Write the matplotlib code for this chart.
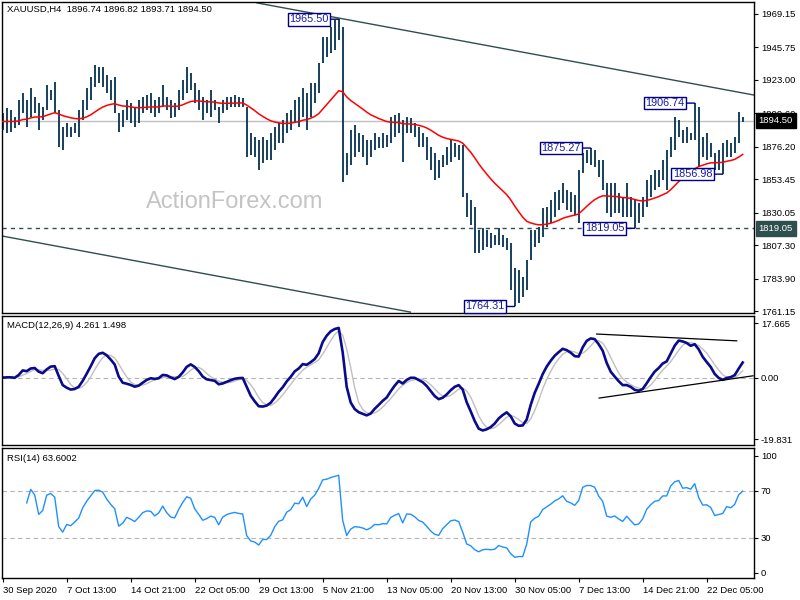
import numpy as np
import pandas as pd
import matplotlib
matplotlib.use('Agg')
import matplotlib.pyplot as plt
from matplotlib.transforms import blended_transform_factory

plt.rcParams['font.family'] = ['Liberation Sans', 'DejaVu Sans']

HEADER = 'XAUUSD,H4  1896.74 1896.82 1893.71 1894.50'
MACD_HEADER = 'MACD(12,26,9) 4.261 1.498'
RSI_HEADER = 'RSI(14) 63.6002'
LAST_CLOSE = 1894.50
LEVEL = 1819.05

# one bar per 8h (two H4 bars merged)
HIGH = [
    1899.8, 1903.3, 1901.9, 1897.0, 1908.9, 1913.8, 1908.9, 1917.3, 1911.0, 1906.8,
    1904.0, 1919.4, 1915.9, 1921.5, 1901.9, 1890.0, 1892.8, 1890.0, 1892.8, 1901.9,
    1908.9, 1917.3, 1925.0, 1933.4, 1932.0, 1932.0, 1926.4, 1922.9, 1925.0, 1899.8,
    1901.9, 1908.9, 1906.8, 1904.0, 1908.9, 1911.0, 1912.4, 1913.8, 1908.9, 1911.0,
    1919.4, 1911.0, 1908.9, 1906.8, 1915.9, 1922.9, 1932.0, 1927.8, 1920.8, 1915.9,
    1911.0, 1908.9, 1915.9, 1908.9, 1904.0, 1908.9, 1911.0, 1911.0, 1912.4, 1911.0,
    1910.3, 1904.0, 1885.8, 1883.0, 1880.9, 1883.0, 1880.9, 1885.8, 1890.0, 1892.8,
    1894.9, 1899.8, 1901.9, 1908.9, 1911.0, 1917.3, 1913.8, 1920.8, 1920.8, 1934.8,
    1953.0, 1953.0, 1960.0, 1964.9, 1965.50, 1960.0, 1871.8, 1887.9, 1891.4, 1885.8,
    1884.4, 1880.9, 1880.9, 1885.8, 1883.0, 1885.8, 1884.4, 1897.0, 1898.4, 1899.8,
    1894.9, 1897.0, 1896.3, 1892.8, 1890.0, 1885.8, 1883.0, 1876.0, 1871.8, 1866.9,
    1870.4, 1876.0, 1880.9, 1878.8, 1877.4, 1877.4, 1843.8, 1838.9, 1834.0, 1817.9,
    1819.3, 1817.9, 1815.8, 1814.4, 1819.3, 1814.4, 1812.3, 1808.8, 1791.3, 1789.9,
    1785.0, 1796.9, 1817.9, 1817.9, 1820.0, 1833.3, 1834.0, 1838.9, 1844.5, 1845.9,
    1850.8, 1845.9, 1844.5, 1842.4, 1859.9, 1871.8, 1873.9, 1875.27, 1874.0, 1866.9,
    1866.9, 1850.8, 1850.8, 1850.8, 1843.8, 1841.0, 1850.8, 1841.0, 1838.9, 1836.8,
    1841.0, 1852.9, 1856.4, 1859.9, 1859.9, 1866.9, 1873.9, 1883.0, 1897.0, 1894.9,
    1887.9, 1890.0, 1885.8, 1906.74, 1904.0, 1883.0, 1885.8, 1878.8, 1871.8, 1873.9,
    1878.8, 1880.9, 1878.8, 1883.0, 1900.5, 1896.82,
]
LOW = [
    1887.9, 1885.8, 1886.5, 1889.3, 1891.4, 1899.8, 1890.0, 1897.0, 1899.8, 1887.9,
    1894.9, 1901.9, 1908.9, 1899.8, 1876.0, 1873.9, 1883.0, 1883.0, 1885.8, 1883.0,
    1894.9, 1901.9, 1908.9, 1918.0, 1920.8, 1918.0, 1913.8, 1908.9, 1899.8, 1886.5,
    1890.0, 1894.9, 1892.8, 1890.0, 1892.8, 1899.8, 1901.9, 1899.8, 1897.0, 1899.8,
    1904.0, 1901.9, 1896.3, 1897.0, 1901.9, 1908.9, 1913.8, 1915.9, 1906.8, 1901.9,
    1894.9, 1899.8, 1897.0, 1901.9, 1892.8, 1899.8, 1901.9, 1904.0, 1904.0, 1904.0,
    1904.0, 1869.0, 1870.4, 1869.0, 1859.9, 1864.8, 1866.9, 1866.9, 1873.9, 1878.8,
    1878.8, 1885.8, 1887.9, 1892.8, 1890.0, 1897.0, 1887.9, 1897.0, 1906.8, 1913.8,
    1934.8, 1939.0, 1941.8, 1943.9, 1950.9, 1851.5, 1856.4, 1863.4, 1869.0, 1872.5,
    1869.0, 1863.4, 1869.0, 1873.9, 1875.3, 1875.3, 1876.0, 1878.8, 1883.0, 1885.8,
    1865.5, 1885.8, 1885.8, 1883.0, 1876.0, 1876.0, 1866.9, 1859.9, 1852.9, 1854.3,
    1862.0, 1863.4, 1865.5, 1869.0, 1866.9, 1841.0, 1827.0, 1821.4, 1801.8, 1801.8,
    1803.9, 1806.0, 1805.3, 1807.4, 1807.4, 1806.0, 1803.9, 1775.9, 1764.31, 1766.8,
    1771.0, 1775.9, 1796.9, 1806.0, 1808.8, 1813.0, 1820.0, 1822.8, 1827.0, 1831.9,
    1836.8, 1831.9, 1830.6, 1828.4, 1822.8, 1857.8, 1864.8, 1863.4, 1862.0, 1855.0,
    1845.9, 1829.8, 1827.0, 1829.8, 1829.8, 1827.0, 1827.0, 1827.0, 1819.05, 1822.8,
    1827.0, 1834.0, 1841.0, 1845.9, 1848.0, 1852.9, 1845.9, 1869.0, 1873.9, 1883.0,
    1878.8, 1878.8, 1880.9, 1880.9, 1862.0, 1869.0, 1866.9, 1869.0, 1860.0, 1859.9,
    1856.98, 1869.0, 1869.0, 1871.8, 1878.8, 1893.71,
]

# swing labels: (bar, which end)
SWINGS = [(84, 'high'), (128, 'low'), (147, 'high'), (158, 'low'), (173, 'high'), (180, 'low')]

PRICE_TICKS = [1969.15, 1945.75, 1923.00, 1899.60, 1876.20, 1853.45, 1830.05, 1807.30, 1783.90, 1761.15]
MACD_TICKS = [17.665, 0.0, -19.831]
MACD_TICKLABELS = ['17.665', '0.00', '-19.831']
RSI_TICKS = [100, 70, 30, 0]
DATE_LABELS = ['30 Sep 2020', '7 Oct 13:00', '14 Oct 21:00', '22 Oct 05:00', '29 Oct 13:00',
               '5 Nov 21:00', '13 Nov 05:00', '20 Nov 13:00', '30 Nov 05:00', '7 Dec 13:00',
               '14 Dec 21:00', '22 Dec 05:00']
DATE_BARS = [0, 16, 32, 48, 64, 80, 96, 112, 128, 144, 160, 176]

# hand drawn lines, (bar, value) end points
CHANNEL = [((63.6, 1976.9), (187.8, 1912.4)),
           ((-0.2, 1813.7), (101.9, 1760.4))]
MACD_LINES = [((148.5, 14.1), (183.5, 11.9)),
              ((149.1, -6.6), (187.6, 0.6))]

BAR_C = '#15405c'
LINE_C = '#2f4f4f'
FS = 6.8

high = np.array(HIGH)
low = np.array(LOW)
x = np.arange(len(high))
med = pd.Series((high + low) / 2)

# periods roughly halved since each bar is 8h; rsi kept a bit longer (median price is smoother)
ma = med.ewm(span=27, adjust=False).mean()
macd = med.ewm(span=6, adjust=False).mean() - med.ewm(span=13, adjust=False).mean()
signal = macd.rolling(4, min_periods=1).mean()
d = med.diff()
up = d.clip(lower=0).ewm(alpha=1 / 12, adjust=True, min_periods=6).mean()
dn = (-d.clip(upper=0)).ewm(alpha=1 / 12, adjust=True, min_periods=6).mean()
rsi = 100 - 100 / (1 + up / dn)

W, H = 800, 600


def rect(top, bottom, left=2, right=754):
    return [left / W, 1 - bottom / H, (right - left) / W, (bottom - top) / H]


fig = plt.figure(figsize=(8, 6), dpi=100)
ax = fig.add_axes(rect(2, 313))
am = fig.add_axes(rect(316, 445))
ar = fig.add_axes(rect(448, 578))

for a in (ax, am, ar):
    a.set_xlim(-0.175, 187.825)
    a.yaxis.tick_right()
    a.tick_params(axis='y', direction='out', length=3, width=0.8, pad=2, labelsize=FS)
    for s in a.spines.values():
        s.set_linewidth(1)
for a in (ax, am):
    a.tick_params(axis='x', bottom=False, labelbottom=False)

# --- price panel
ax.set_ylim(1759.75, 1977.55)
ax.text(0.31, 0.357, 'ActionForex.com', transform=ax.transAxes, fontsize=17,
        color='#c4c4c4', ha='center', va='center', zorder=0.5)
ax.axhline(LAST_CLOSE, color='#c0c0c0', lw=1, zorder=1)
ax.axhline(LEVEL, color=LINE_C, lw=1, ls=(0, (3, 3)), zorder=1)
for (x0, y0), (x1, y1) in CHANNEL:
    ax.plot([x0, x1], [y0, y1], color=LINE_C, lw=1, zorder=1)
ax.vlines(x, low, high, color=BAR_C, lw=1.4, zorder=2)
ax.plot(x, ma, color='red', lw=1.1, zorder=3)
ax.set_yticks(PRICE_TICKS)
ax.set_yticklabels([f'{v:.2f}' for v in PRICE_TICKS])
ax.text(0.007, 0.975, HEADER, transform=ax.transAxes, fontsize=FS, va='center', ha='left')

tr = blended_transform_factory(ax.transAxes, ax.transData)
for val, fc in ((LAST_CLOSE, 'black'), (LEVEL, LINE_C)):
    ax.text(1.006, val, f'{val:.2f}', transform=tr, color='white', fontsize=FS, va='center',
            ha='left', clip_on=False, zorder=10,
            bbox=dict(boxstyle='square,pad=0.3', fc=fc, ec=fc))

for idx, kind in SWINGS:
    p = HIGH[idx] if kind == 'high' else LOW[idx]
    ax.annotate(f'{p:.2f}', xy=(idx, p), xytext=(-7.5, 0), textcoords='offset points',
                ha='right', va='center', fontsize=7.8, color='#1a1aa6', zorder=6,
                bbox=dict(boxstyle='square,pad=0.12', fc='white', ec='#000080', lw=1),
                arrowprops=dict(arrowstyle='-', color='#000080', lw=1, shrinkA=0, shrinkB=0))

# --- MACD panel
am.set_ylim(-21.77, 19.93)
am.axhline(0, color='#b4b4b4', lw=0.8, ls=(0, (4, 3)))
am.plot(x, signal, color='#c0c0c0', lw=1)
am.plot(x, macd, color='#0a0a8c', lw=1.9)
for (x0, y0), (x1, y1) in MACD_LINES:
    am.plot([x0, x1], [y0, y1], color='black', lw=0.9)
am.set_yticks(MACD_TICKS)
am.set_yticklabels(MACD_TICKLABELS)
am.text(0.007, 0.93, MACD_HEADER, transform=am.transAxes, fontsize=FS, va='center', ha='left')

# --- RSI panel
ar.set_ylim(-4.5, 106.6)
for lv in (70, 30):
    ar.axhline(lv, color='#b4b4b4', lw=0.8, ls=(0, (4, 3)))
ar.plot(x, rsi, color='#1e90ff', lw=1)
ar.set_yticks(RSI_TICKS)
ar.set_yticklabels([str(v) for v in RSI_TICKS])
ar.text(0.007, 0.92, RSI_HEADER, transform=ar.transAxes, fontsize=FS, va='center', ha='left')
ar.set_xticks(DATE_BARS)
ar.set_xticklabels(DATE_LABELS, ha='left', fontsize=FS)
ar.tick_params(axis='x', direction='out', length=3, width=0.8, pad=3)

fig.savefig('out.png', dpi=100)
